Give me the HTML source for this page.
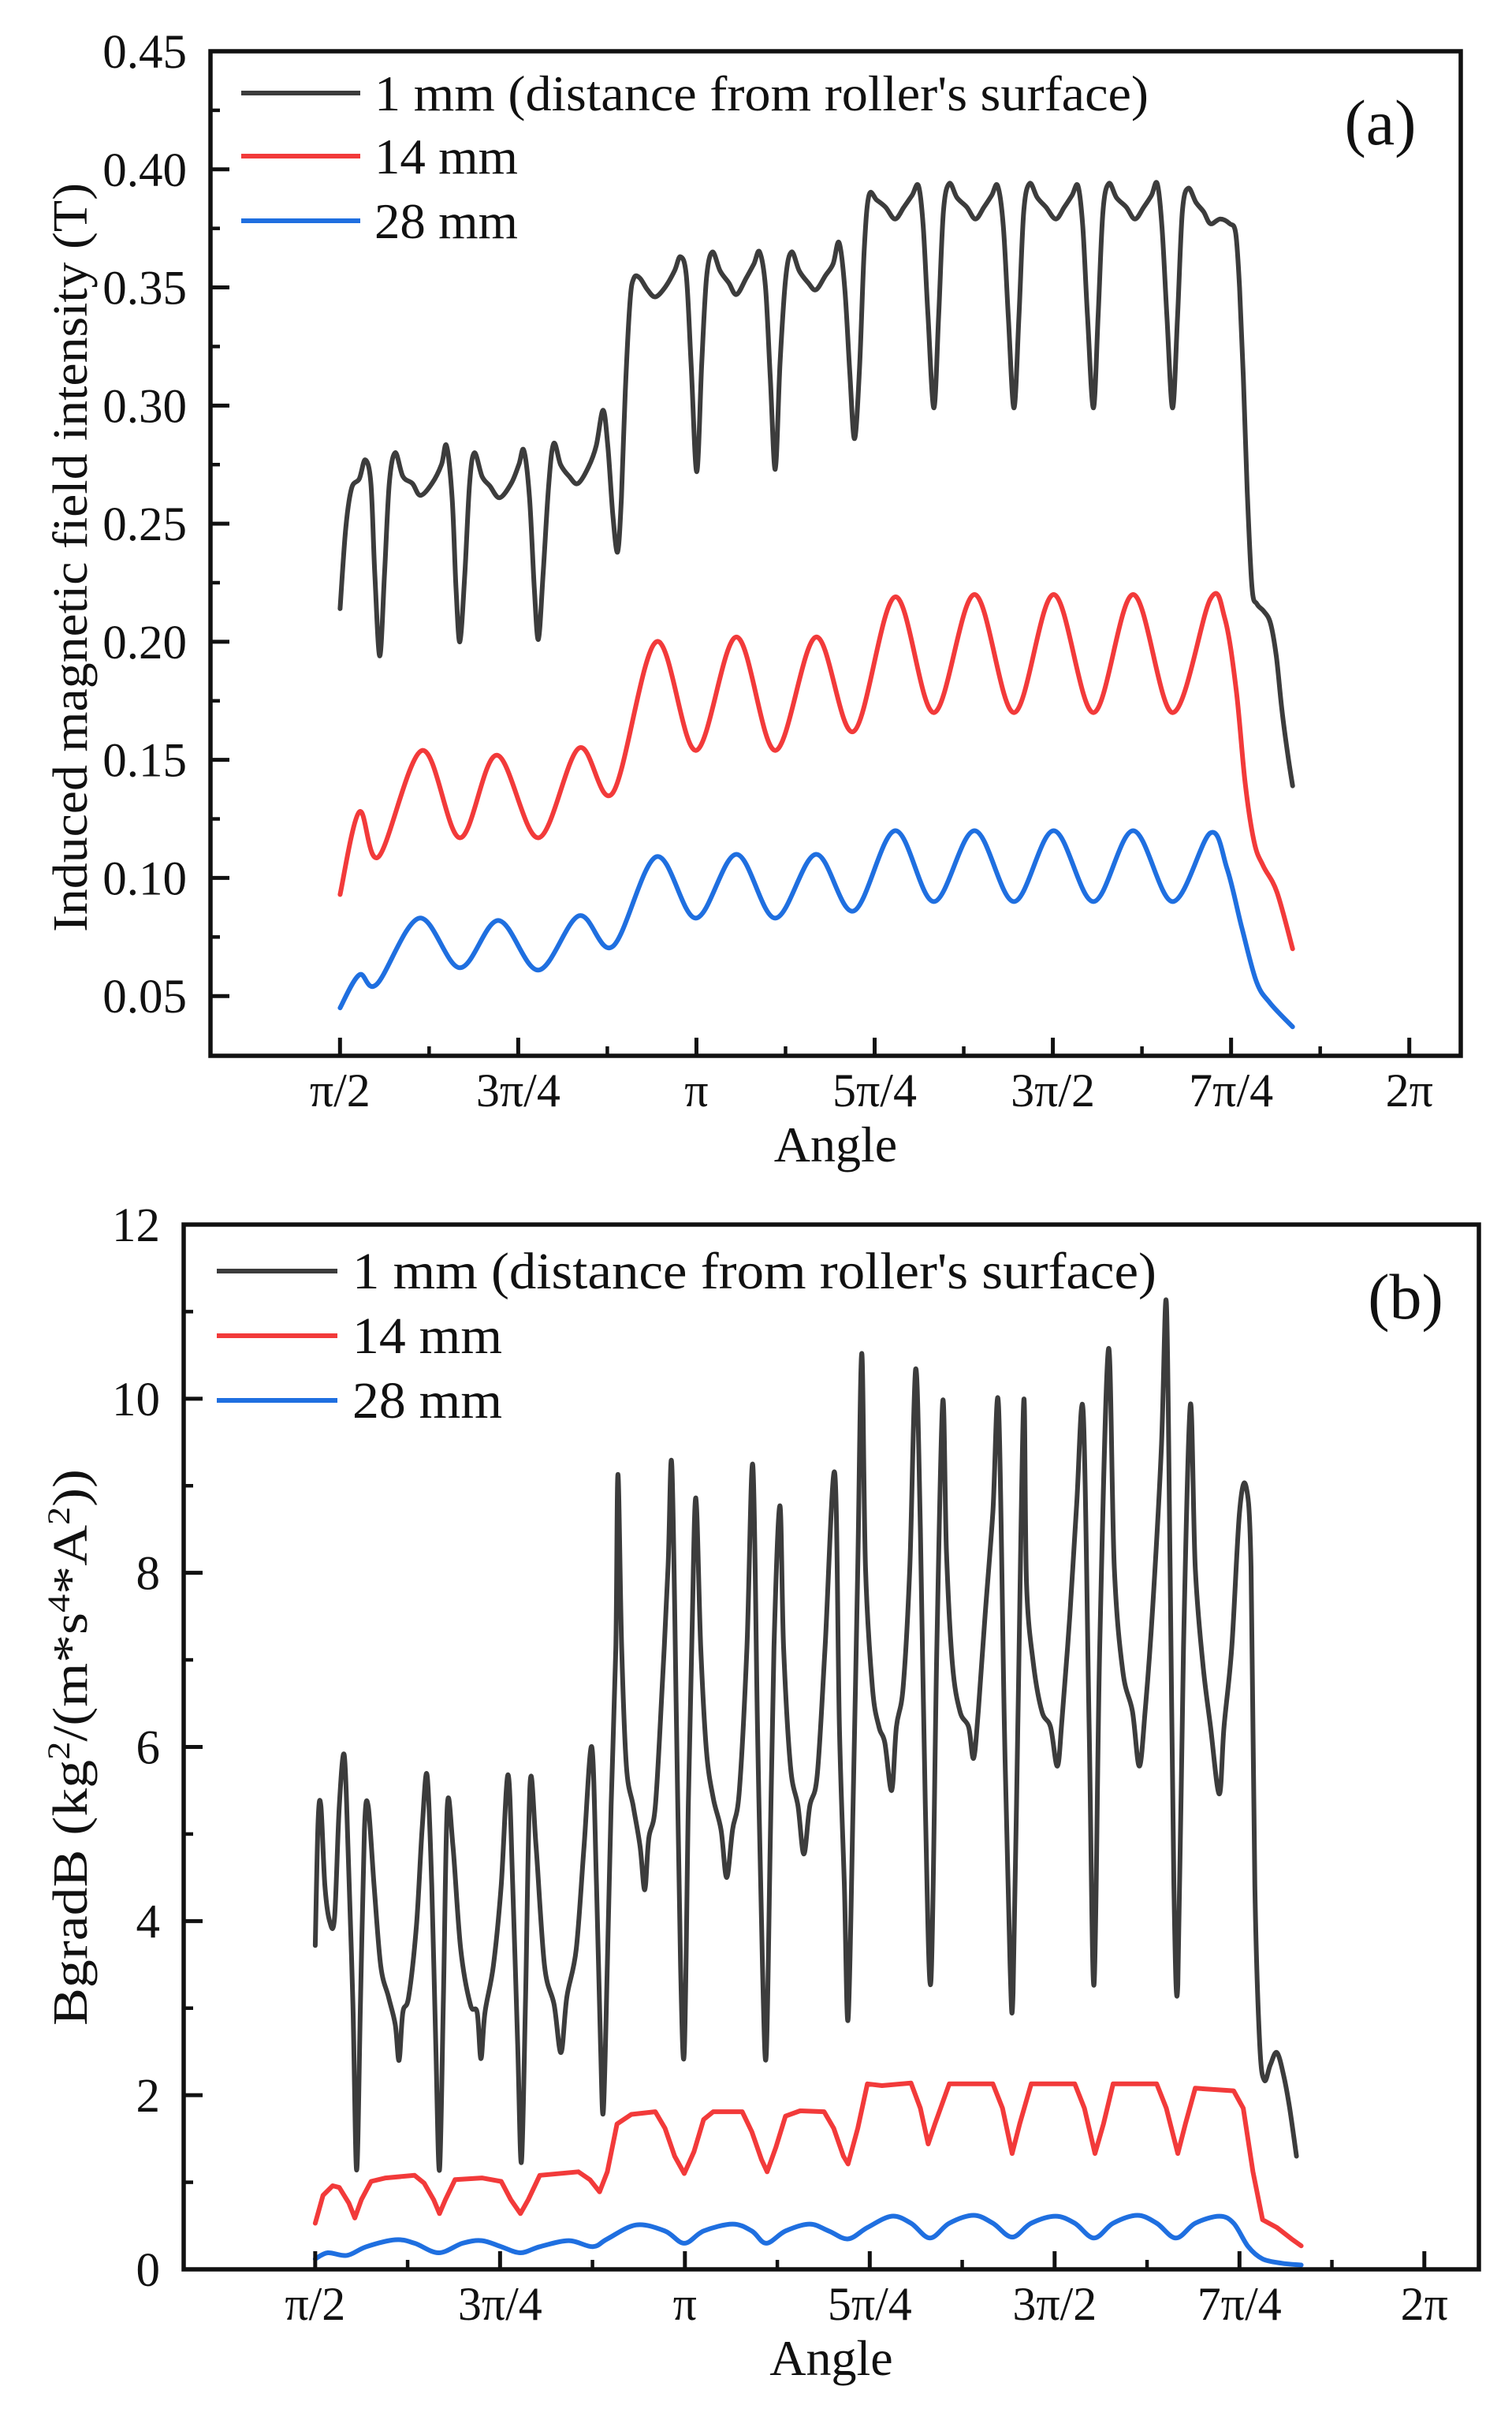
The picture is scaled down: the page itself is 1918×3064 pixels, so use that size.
<!DOCTYPE html>
<html><head><meta charset="utf-8"><style>
html,body{margin:0;padding:0;background:#fff}
svg{display:block}
text{font-family:"Liberation Serif","Times New Roman",serif;fill:#111}
</style></head><body>
<svg id="fig" width="1918" height="3064" viewBox="0 0 1918 3064" xmlns="http://www.w3.org/2000/svg"></svg>
<script>
// ---------- DATA (angle in radians, value) ----------
const tickLabelsX = ["π/2","3π/4","π","5π/4","3π/2","7π/4","2π"];
const tickValuesX = [Math.PI/2,3*Math.PI/4,Math.PI,5*Math.PI/4,3*Math.PI/2,7*Math.PI/4,2*Math.PI];
const tickLabelsA = ["0.05","0.10","0.15","0.20","0.25","0.30","0.35","0.40","0.45"];
const tickValuesA = [0.05,0.10,0.15,0.20,0.25,0.30,0.35,0.40,0.45];
const tickLabelsB = ["0","2","4","6","8","10","12"];
const tickValuesB = [0,2,4,6,8,10,12];
const seriesNames = ["1 mm (distance from roller's surface)","14 mm","28 mm"];

const a1mm = [[1.571,0.214],[1.596,0.248],[1.622,0.265],[1.656,0.269],[1.682,0.277],[1.707,0.267],[1.724,0.229],[1.746,0.194],[1.767,0.229],[1.788,0.267],[1.814,0.280],[1.848,0.270],[1.890,0.267],[1.925,0.262],[1.976,0.267],[2.018,0.275],[2.040,0.283],[2.065,0.261],[2.082,0.223],[2.099,0.200],[2.121,0.229],[2.142,0.267],[2.163,0.280],[2.197,0.270],[2.231,0.266],[2.274,0.261],[2.325,0.267],[2.359,0.275],[2.381,0.281],[2.406,0.261],[2.427,0.223],[2.445,0.201],[2.466,0.229],[2.491,0.267],[2.513,0.284],[2.543,0.275],[2.581,0.270],[2.619,0.267],[2.666,0.274],[2.700,0.283],[2.730,0.298],[2.751,0.283],[2.773,0.254],[2.794,0.238],[2.811,0.261],[2.828,0.306],[2.849,0.344],[2.866,0.354],[2.892,0.354],[2.926,0.349],[2.960,0.346],[3.003,0.350],[3.045,0.357],[3.071,0.363],[3.097,0.355],[3.118,0.318],[3.143,0.272],[3.165,0.318],[3.186,0.354],[3.212,0.365],[3.246,0.357],[3.284,0.352],[3.318,0.347],[3.361,0.354],[3.395,0.360],[3.420,0.365],[3.446,0.350],[3.467,0.312],[3.489,0.273],[3.510,0.318],[3.535,0.354],[3.561,0.365],[3.595,0.357],[3.634,0.352],[3.668,0.349],[3.710,0.355],[3.744,0.360],[3.770,0.369],[3.795,0.350],[3.817,0.315],[3.838,0.286],[3.860,0.315],[3.881,0.366],[3.902,0.389],[3.936,0.387],[3.975,0.384],[4.017,0.379],[4.056,0.384],[4.092,0.389],[4.120,0.393],[4.141,0.376],[4.162,0.338],[4.188,0.299],[4.209,0.338],[4.230,0.382],[4.256,0.394],[4.290,0.388],[4.333,0.384],[4.371,0.379],[4.409,0.384],[4.443,0.389],[4.469,0.393],[4.494,0.376],[4.516,0.338],[4.541,0.299],[4.563,0.338],[4.584,0.382],[4.610,0.394],[4.644,0.388],[4.682,0.384],[4.725,0.379],[4.763,0.384],[4.797,0.389],[4.823,0.393],[4.844,0.376],[4.865,0.338],[4.891,0.299],[4.912,0.338],[4.933,0.382],[4.959,0.394],[4.993,0.388],[5.036,0.384],[5.074,0.379],[5.113,0.384],[5.147,0.389],[5.172,0.394],[5.193,0.376],[5.215,0.338],[5.240,0.299],[5.262,0.338],[5.283,0.382],[5.309,0.392],[5.343,0.386],[5.377,0.382],[5.407,0.377],[5.450,0.379],[5.492,0.377],[5.518,0.373],[5.535,0.350],[5.552,0.312],[5.569,0.264],[5.590,0.223],[5.612,0.216],[5.641,0.213],[5.671,0.208],[5.697,0.194],[5.722,0.171],[5.748,0.152],[5.769,0.139]];
const a14mm = [[1.571,0.093],[1.656,0.128],[1.741,0.109],[1.933,0.154],[2.099,0.117],[2.261,0.152],[2.445,0.117],[2.624,0.155],[2.773,0.136],[2.965,0.200],[3.139,0.154],[3.318,0.202],[3.489,0.154],[3.668,0.202],[3.834,0.162],[4.017,0.219],[4.188,0.170],[4.367,0.220],[4.541,0.170],[4.716,0.220],[4.891,0.170],[5.066,0.220],[5.240,0.170],[5.406,0.218],[5.470,0.210],[5.520,0.180],[5.560,0.140],[5.600,0.115],[5.640,0.105],[5.700,0.094],[5.769,0.070]];
const a28mm = [[1.571,0.045],[1.656,0.059],[1.733,0.055],[1.920,0.083],[2.099,0.062],[2.269,0.082],[2.445,0.061],[2.624,0.084],[2.773,0.071],[2.965,0.109],[3.139,0.083],[3.318,0.110],[3.489,0.083],[3.668,0.110],[3.834,0.086],[4.017,0.120],[4.188,0.090],[4.367,0.120],[4.541,0.090],[4.716,0.120],[4.891,0.090],[5.066,0.120],[5.240,0.090],[5.406,0.119],[5.480,0.104],[5.545,0.079],[5.610,0.056],[5.670,0.047],[5.769,0.037]];

const b1mm = [[1.571,3.72],[1.583,5.14],[1.595,5.32],[1.612,4.41],[1.632,4.00],[1.653,4.04],[1.673,5.32],[1.694,5.91],[1.710,4.86],[1.731,3.04],[1.747,1.14],[1.763,3.04],[1.780,5.05],[1.796,5.32],[1.821,4.41],[1.849,3.49],[1.882,3.13],[1.911,2.81],[1.927,2.40],[1.943,2.95],[1.968,3.13],[2.001,3.95],[2.025,5.05],[2.046,5.68],[2.066,4.41],[2.083,2.58],[2.099,1.14],[2.115,3.04],[2.132,5.32],[2.156,4.86],[2.189,3.68],[2.230,3.04],[2.259,2.95],[2.275,2.42],[2.292,2.95],[2.328,3.49],[2.361,4.41],[2.390,5.68],[2.410,4.41],[2.431,2.58],[2.447,1.23],[2.464,3.04],[2.484,5.59],[2.509,4.86],[2.545,3.49],[2.586,3.04],[2.615,2.49],[2.640,3.13],[2.680,3.68],[2.713,4.86],[2.746,6.00],[2.766,4.41],[2.783,2.58],[2.795,1.81],[2.812,3.49],[2.828,5.32],[2.848,7.14],[2.857,9.13],[2.873,7.14],[2.893,5.78],[2.922,5.32],[2.951,4.86],[2.971,4.36],[2.988,4.95],[3.016,5.32],[3.045,6.69],[3.070,8.06],[3.086,9.24],[3.106,6.23],[3.123,3.49],[3.139,2.49],[3.156,5.32],[3.172,7.33],[3.188,8.86],[3.209,7.14],[3.233,5.96],[3.262,5.41],[3.295,5.05],[3.319,4.50],[3.344,5.05],[3.373,5.50],[3.405,7.14],[3.430,9.24],[3.450,6.23],[3.471,3.49],[3.487,2.45],[3.504,4.86],[3.520,7.14],[3.545,8.77],[3.561,7.14],[3.590,5.78],[3.622,5.32],[3.647,4.77],[3.672,5.32],[3.704,5.68],[3.737,7.14],[3.778,9.15],[3.798,6.23],[3.819,4.41],[3.835,2.87],[3.856,5.32],[3.876,8.06],[3.893,10.52],[3.909,8.06],[3.938,6.69],[3.966,6.23],[3.991,6.05],[4.020,5.50],[4.040,6.23],[4.069,6.69],[4.097,8.06],[4.122,10.34],[4.142,8.51],[4.163,5.32],[4.187,3.31],[4.212,7.14],[4.237,9.97],[4.253,8.24],[4.278,6.96],[4.310,6.41],[4.347,6.23],[4.368,5.87],[4.388,6.41],[4.417,7.51],[4.450,8.70],[4.474,9.93],[4.499,6.23],[4.523,3.49],[4.536,3.18],[4.556,6.23],[4.581,9.97],[4.593,7.87],[4.622,6.96],[4.658,6.41],[4.695,6.23],[4.724,5.78],[4.744,6.32],[4.777,7.51],[4.806,8.79],[4.834,9.84],[4.859,6.23],[4.880,3.27],[4.904,7.14],[4.941,10.57],[4.966,8.06],[5.002,6.87],[5.043,6.41],[5.072,5.78],[5.097,6.41],[5.129,7.60],[5.166,9.43],[5.187,11.11],[5.203,8.06],[5.219,4.41],[5.236,3.27],[5.260,7.14],[5.289,9.93],[5.310,8.06],[5.342,6.96],[5.375,6.23],[5.412,5.46],[5.432,6.23],[5.465,7.14],[5.498,8.70],[5.526,8.99],[5.547,8.06],[5.563,4.41],[5.584,2.58],[5.604,2.17],[5.629,2.35],[5.657,2.49],[5.686,2.22],[5.711,1.85],[5.740,1.30]];
const b14mm = [[1.571,0.53],[1.604,0.85],[1.645,0.96],[1.673,0.94],[1.714,0.76],[1.739,0.59],[1.767,0.80],[1.808,1.01],[1.870,1.05],[1.993,1.08],[2.034,0.99],[2.074,0.80],[2.099,0.64],[2.124,0.80],[2.165,1.03],[2.279,1.05],[2.361,1.01],[2.402,0.80],[2.443,0.64],[2.476,0.80],[2.525,1.08],[2.689,1.12],[2.738,1.03],[2.779,0.89],[2.812,1.12],[2.853,1.67],[2.914,1.78],[3.016,1.81],[3.057,1.62],[3.098,1.30],[3.139,1.10],[3.180,1.35],[3.221,1.72],[3.262,1.81],[3.385,1.81],[3.426,1.58],[3.467,1.26],[3.491,1.12],[3.528,1.40],[3.569,1.76],[3.631,1.82],[3.733,1.81],[3.774,1.62],[3.815,1.30],[3.835,1.21],[3.876,1.62],[3.917,2.13],[3.979,2.11],[4.102,2.14],[4.142,1.85],[4.175,1.44],[4.204,1.67],[4.265,2.13],[4.450,2.13],[4.491,1.85],[4.532,1.33],[4.564,1.67],[4.613,2.13],[4.798,2.13],[4.839,1.85],[4.884,1.33],[4.920,1.67],[4.961,2.13],[5.146,2.13],[5.187,1.85],[5.236,1.33],[5.268,1.67],[5.310,2.08],[5.473,2.05],[5.514,1.85],[5.555,1.12],[5.596,0.57],[5.657,0.48],[5.719,0.35],[5.760,0.27]];
const b28mm = [[1.571,0.12],[1.624,0.19],[1.706,0.16],[1.788,0.26],[1.911,0.34],[1.993,0.30],[2.095,0.19],[2.197,0.30],[2.279,0.33],[2.361,0.26],[2.443,0.19],[2.525,0.26],[2.648,0.33],[2.750,0.26],[2.812,0.35],[2.935,0.51],[3.057,0.44],[3.139,0.30],[3.221,0.44],[3.344,0.52],[3.426,0.44],[3.487,0.30],[3.569,0.44],[3.672,0.52],[3.753,0.44],[3.835,0.35],[3.917,0.48],[4.020,0.61],[4.102,0.53],[4.183,0.36],[4.265,0.53],[4.368,0.62],[4.450,0.53],[4.532,0.37],[4.613,0.53],[4.716,0.61],[4.798,0.53],[4.880,0.36],[4.961,0.53],[5.064,0.62],[5.146,0.53],[5.228,0.36],[5.310,0.53],[5.412,0.61],[5.473,0.53],[5.535,0.26],[5.596,0.12],[5.678,0.07],[5.760,0.05]];

// ---------- DRAWING ----------
const NS = "http://www.w3.org/2000/svg";
const svg = document.getElementById("fig");
const colors = ["#3c3c3c","#f23a3a","#1f6fe0"];
function mk(tag, attrs, parent){
  const e = document.createElementNS(NS, tag);
  for (const k in attrs) e.setAttribute(k, attrs[k]);
  (parent||svg).appendChild(e);
  return e;
}
function linearPath(pts, sx, sy){
  return pts.map((p,i)=>(i?"L":"M")+sx(p[0]).toFixed(1)+","+sy(p[1]).toFixed(1)).join(" ");
}
function smoothPath(pts, sx, sy){
  const P = pts.map(p=>[sx(p[0]), sy(p[1])]);
  let d = "M"+P[0][0].toFixed(1)+","+P[0][1].toFixed(1);
  for (let i=0;i<P.length-1;i++){
    const p0=P[Math.max(i-1,0)], p1=P[i], p2=P[i+1], p3=P[Math.min(i+2,P.length-1)];
    const c1=[p1[0]+(p2[0]-p0[0])/6, p1[1]+(p2[1]-p0[1])/6];
    const c2=[p2[0]-(p3[0]-p1[0])/6, p2[1]-(p3[1]-p1[1])/6];
    d += " C"+c1[0].toFixed(1)+","+c1[1].toFixed(1)+" "+c2[0].toFixed(1)+","+c2[1].toFixed(1)+" "+p2[0].toFixed(1)+","+p2[1].toFixed(1);
  }
  return d;
}

function chart(cfg){
  const g = mk("g", {});
  
  
  const L=cfg.left,R=cfg.right,T=cfg.top,B=cfg.bottom;
  const sx = v => L + (v-cfg.xmin)/(cfg.xmax-cfg.xmin)*(R-L);
  const sy = v => B - (v-cfg.ymin)/(cfg.ymax-cfg.ymin)*(B-T);
  cfg.series.forEach((s,i)=>{
    const p = mk("path",{d: s.smooth ? smoothPath(s.data,sx,sy) : linearPath(s.data,sx,sy), fill:"none", stroke:colors[i], "stroke-width":6, "stroke-linejoin":"round","stroke-linecap":"round"}, g);
    
    
  });
  const fr = mk("rect",{x:L,y:T,width:R-L,height:B-T,fill:"none",stroke:"#111","stroke-width":5.5}, g);
  
  
  tickValuesX.forEach((v,i)=>{
    const x = sx(v);
    const t = mk("line",{x1:x,x2:x,y1:B,y2:B-23,stroke:"#111","stroke-width":5}, g);
    
    
    if (i < tickValuesX.length-1){
      const xm = sx((v+tickValuesX[i+1])/2);
      const m = mk("line",{x1:xm,x2:xm,y1:B,y2:B-12,stroke:"#111","stroke-width":4.5}, g);
      
      
    }
    const lb = mk("text",{x:x,y:B+64,"text-anchor":"middle","font-size":60}, g);
    lb.textContent = tickLabelsX[i];
    
    
  });
  const yv = cfg.yticks, yl = cfg.ylabels;
  yv.forEach((v,i)=>{
    const y = sy(v);
    const t = mk("line",{x1:L,x2:L+24,y1:y,y2:y,stroke:"#111","stroke-width":5}, g);
    
    
    const lb = mk("text",{x:L-30,y:y+21,"text-anchor":"end","font-size":61}, g);
    lb.textContent = yl[i];
    
    
    const ym = sy(v - (yv[1]-yv[0])/2);
    if (ym < B-3){
      const m = mk("line",{x1:L,x2:L+12,y1:ym,y2:ym,stroke:"#111","stroke-width":4.5}, g);
      
      
    }
  });
  const xt = mk("text",{x:(L+R)/2,y:B+134,"text-anchor":"middle","font-size":64}, g);
  xt.textContent = "Angle";
  
  
  const yt = mk("text",{x:0,y:0,"text-anchor":"middle","font-size":62,transform:"translate("+cfg.ytitleX+","+cfg.ytitleY+") rotate(-90)",textLength:cfg.ytitleLen,lengthAdjust:"spacingAndGlyphs"}, g);
  yt.innerHTML = cfg.ytitle;
  
  
  cfg.legendY.forEach((ly,i)=>{
    const lg = mk("g",{}, g);
    
    
    mk("line",{x1:cfg.legendX1,x2:cfg.legendX2,y1:ly,y2:ly,stroke:colors[i],"stroke-width":6}, lg);
    const tx = mk("text",{x:cfg.legendTX,y:ly+22,"font-size":cfg.legendFont,textLength:cfg.legendLen[i],lengthAdjust:"spacingAndGlyphs"}, lg);
    tx.textContent = seriesNames[i];
  });
  const pl = mk("text",{x:cfg.panelX,y:cfg.panelY,"text-anchor":"middle","font-size":82}, g);
  pl.textContent = cfg.panel;
  
  
}

chart({name:"chart-a", left:267, right:1853, top:65, bottom:1339,
  xmin:1.0, xmax:6.51, ymin:0.0247, ymax:0.45,
  yticks:tickValuesA, ylabels:tickLabelsA,
  series:[{name:"line-1mm",data:a1mm,smooth:true},{name:"line-14mm",data:a14mm,smooth:true},{name:"line-28mm",data:a28mm,smooth:true}],
  ytitle:"Induced magnetic field intensity (T)", ytitleX:110, ytitleY:707, ytitleLen:950,
  legendY:[118,198,280], legendX1:306, legendX2:457, legendTX:475, legendFont:64, legendLen:[982,182,182],
  panel:"(a)", panelX:1751, panelY:183});

chart({name:"chart-b", left:233, right:1876, top:1553, bottom:2878,
  xmin:1.012, xmax:6.515, ymin:0, ymax:12,
  yticks:tickValuesB, ylabels:tickLabelsB,
  series:[{name:"line-1mm",data:b1mm,smooth:true},{name:"line-14mm",data:b14mm,smooth:false},{name:"line-28mm",data:b28mm,smooth:true}],
  ytitle:'BgradB (kg<tspan dy="-22" font-size="40">2</tspan><tspan dy="22">/(m*s</tspan><tspan dy="-22" font-size="40">4</tspan><tspan dy="22">*A</tspan><tspan dy="-22" font-size="40">2</tspan><tspan dy="22">))</tspan>',
  ytitleX:110, ytitleY:2216, ytitleLen:706,
  legendY:[1612,1694,1776], legendX1:275, legendX2:428, legendTX:447, legendFont:66, legendLen:[1020,190,190],
  panel:"(b)", panelX:1783, panelY:1672});
</script>
</body></html>
